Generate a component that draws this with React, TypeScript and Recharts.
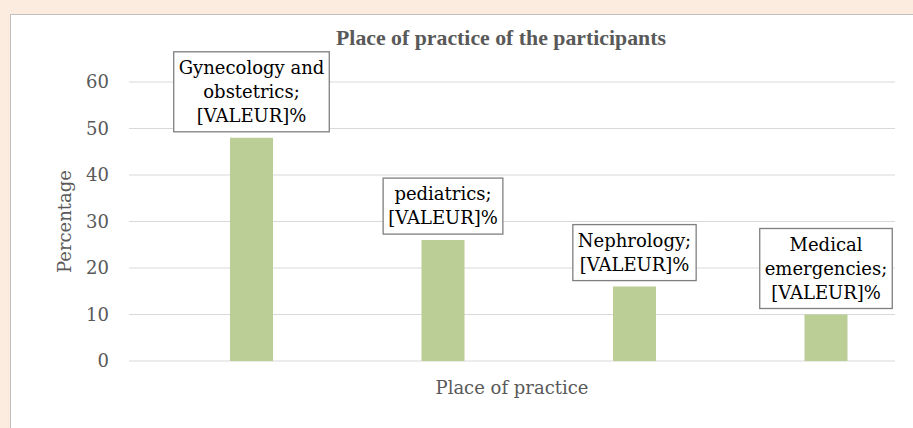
import { Bar, BarChart, CartesianGrid, LabelList, XAxis, YAxis } from "recharts";

const categories = ["Gynecology and obstetrics", "pediatrics", "Nephrology", "Medical emergencies"];
const labelLines = [
  ["Gynecology and", "obstetrics;", "[VALEUR]%"],
  ["pediatrics;", "[VALEUR]%"],
  ["Nephrology;", "[VALEUR]%"],
  ["Medical", "emergencies;", "[VALEUR]%"]
];
const percentages = [48, 26, 16, 10];
const yTicks = [0, 10, 20, 30, 40, 50, 60];

const SERIF = '"DejaVu Serif", serif';
const LABEL_SIZE = 18;
const LINE_H = 24;
const GREY = "#595959";

const data = categories.map((name, i) => ({
  name,
  spacer: null,
  value: percentages[i]
}));

let ctx: CanvasRenderingContext2D | null = null;
function textWidth(s: string) {
  if (!ctx) ctx = document.createElement("canvas").getContext("2d");
  if (!ctx) return s.length * 10;
  ctx.font = `${LABEL_SIZE}px ${SERIF}`;
  return ctx.measureText(s).width;
}

// boxed data label drawn above each bar
function BoxLabel(props: any) {
  const { x, y, width, index } = props;
  const lines = labelLines[index] ?? [];
  const w = Math.max(...lines.map(textWidth)) + 10;
  const h = lines.length * LINE_H + 8;
  const cx = Number(x) + Number(width) / 2;
  const top = Number(y) - 6 - h;
  return (
    <g>
      <rect x={cx - w / 2} y={top} width={w} height={h} fill="#fff" stroke="#7f7f7f" strokeWidth={1.3} />
      {lines.map((line, i) => (
        <text
          key={i}
          x={cx}
          y={top + 4 + LINE_H * i + 18}
          textAnchor="middle"
          fontSize={LABEL_SIZE}
          fontFamily={SERIF}
          fill="#000"
        >
          {line}
        </text>
      ))}
    </g>
  );
}

export default function App() {
  return (
    <div
      style={{
        position: "absolute",
        left: 0,
        top: 0,
        width: 913,
        height: 428,
        background: "#fcece0",
        overflow: "hidden"
      }}
    >
      <div
        style={{
          position: "absolute",
          left: 10,
          top: 14,
          width: 940,
          height: 440,
          background: "#fff",
          border: "1px solid #bfbfbf"
        }}
      />
      <div
        style={{
          position: "absolute",
          left: 301,
          top: 27,
          width: 400,
          textAlign: "center",
          fontFamily: '"Liberation Serif", serif',
          fontWeight: "bold",
          fontSize: 21.8,
          lineHeight: "22px",
          color: GREY
        }}
      >
        Place of practice of the participants
      </div>
      <div style={{ position: "absolute", left: 0, top: 0 }}>
        <BarChart
          width={913}
          height={428}
          data={data}
          margin={{ top: 82, right: 18, bottom: 13, left: 0 }}
          barGap={11}
        >
          <CartesianGrid vertical={false} stroke="#d9d9d9" />
          <XAxis
            dataKey="name"
            tick={false}
            axisLine={false}
            tickLine={false}
            height={54}
            label={{ value: "Place of practice", position: "center", fill: GREY, fontSize: 18, fontFamily: SERIF }}
          />
          <YAxis
            width={129}
            domain={[0, 60]}
            ticks={yTicks}
            axisLine={false}
            tickLine={false}
            tickMargin={14}
            tick={{ fill: GREY, fontSize: 18, fontFamily: SERIF }}
            label={{ value: "Percentage", angle: -90, position: "center", fill: GREY, fontSize: 18, fontFamily: SERIF }}
          />
          <Bar dataKey="spacer" barSize={43} fill="none" isAnimationActive={false} />
          <Bar dataKey="value" barSize={43} fill="#bbce96" isAnimationActive={false}>
            <LabelList dataKey="value" content={BoxLabel} />
          </Bar>
        </BarChart>
      </div>
    </div>
  );
}
